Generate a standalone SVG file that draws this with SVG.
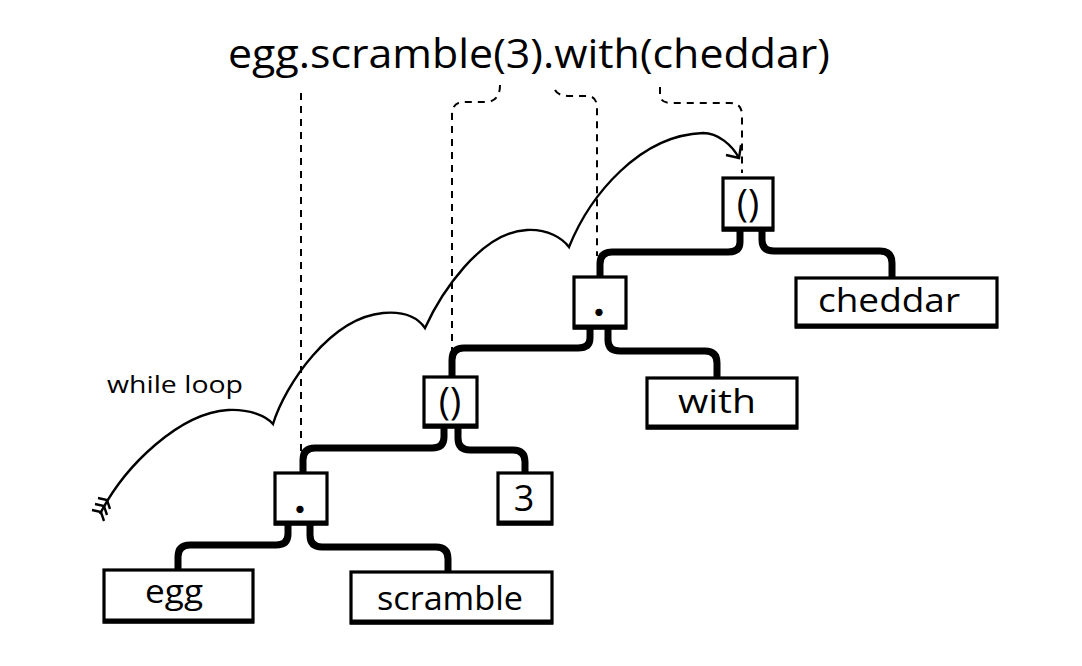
<svg xmlns="http://www.w3.org/2000/svg" width="1082" height="666" viewBox="0 0 1082 666">
<style>
.bx{fill:#fff;stroke:#000;stroke-width:3.2}
.bb{stroke:#000;stroke-width:5;fill:none}
.t{font-family:"Open Sans","Liberation Sans",sans-serif;fill:#000}
.lbl{font-size:33px;text-anchor:middle}
.par{font-size:38px;text-anchor:middle}
.dot{font-family:Lato,"Noto Sans",sans-serif;font-weight:bold;font-size:48px;text-anchor:middle}
.edge{stroke:#000;stroke-width:7;fill:none}
.dash{stroke:#000;stroke-width:2;fill:none;stroke-dasharray:7 6}
.loop{stroke:#000;stroke-width:2.4;fill:none;stroke-linejoin:miter}
</style>
<rect width="1082" height="666" fill="#fff"/>
<text class="t" x="228" y="68" font-size="41" textLength="602" lengthAdjust="spacingAndGlyphs">egg.scramble(3).with(cheddar)</text>
<text class="t" x="107" y="393" font-size="24" textLength="136" lengthAdjust="spacingAndGlyphs">while loop</text>

<g id="annotations">
<path class="dash" d="M301,93 V452"/>
<path class="dash" d="M500,85 Q500,102 485,102 H464 Q452,102 452,115 V352"/>
<path class="dash" d="M555,90 Q558,96 570,96 H587 Q597,96 597,108 V256"/>
<path class="dash" d="M660,87 V95 Q660,103 672,103 H730 Q742,103 742,115 V173"/>
<path class="loop" d="M100,514 C125,465 180,413 228,410 C250,409 266,416 273,424 C285,385 330,318 383,313 C405,311 418,318 425,328 C440,295 480,232 527,230 C548,229 562,238 569,247 C590,195 640,135 703,133 C718,133 732,145 739,158"/>
<path class="loop" d="M726,155 L739,158 L741,145"/>
<path class="loop" stroke-width="2.2" d="M92,510 L101,512 L104,521 M95,504 L104,506 L107,515 M98,498 L107,500 L110,509"/>
</g>

<g id="connectors">
<path class="edge" d="M740,230 V242 Q740,252 728,252 H612 Q600,252 600,264 V278"/>
<path class="edge" d="M762,230 V240 Q762,251 774,251 H880 Q892,251 892,263 V278"/>
<path class="edge" d="M590,328 V338 Q590,348 578,348 H464 Q452,348 452,360 V377"/>
<path class="edge" d="M608,328 V340 Q608,351 620,351 H705 Q717,351 717,363 V378"/>
<path class="edge" d="M444,427 V437 Q444,448 432,448 H315 Q303,448 303,460 V473"/>
<path class="edge" d="M458,427 V438 Q458,450 470,450 H513 Q525,450 525,462 V473"/>
<path class="edge" d="M288,524 V534 Q288,545 276,545 H190 Q178,545 178,557 V570"/>
<path class="edge" d="M310,524 V535 Q310,547 322,547 H436 Q448,547 448,559 V572"/>
</g>

<g id="call-top">
<rect class="bx" x="723" y="178" width="50" height="52"/>
<path class="bb" d="M722,229 H774"/>
<text class="t par" x="748" y="217">()</text>
</g>
<g id="dot-mid">
<rect class="bx" x="574" y="277" width="52" height="51"/>
<path class="bb" d="M573,327 H627"/>
<text class="t dot" x="599" y="316">.</text>
</g>
<g id="cheddar">
<rect class="bx" x="796" y="278" width="201" height="49"/>
<path class="bb" d="M795,326 H998"/>
<text class="t lbl" x="889" y="312" textLength="142" lengthAdjust="spacingAndGlyphs">cheddar</text>
</g>
<g id="with">
<rect class="bx" x="647" y="378" width="150" height="50"/>
<path class="bb" d="M646,427 H798"/>
<text class="t lbl" x="717" y="413" textLength="78" lengthAdjust="spacingAndGlyphs">with</text>
</g>
<g id="call-mid">
<rect class="bx" x="424" y="377" width="53" height="50"/>
<path class="bb" d="M423,426 H478"/>
<text class="t par" x="450" y="415">()</text>
</g>
<g id="dot-bottom">
<rect class="bx" x="275" y="473" width="52" height="51"/>
<path class="bb" d="M274,523 H328"/>
<text class="t dot" x="300" y="513">.</text>
</g>
<g id="three">
<rect class="bx" x="498" y="473" width="54" height="51"/>
<path class="bb" d="M497,523 H553"/>
<text class="t lbl" x="524" y="511" style="font-size:36px">3</text>
</g>
<g id="egg">
<rect class="bx" x="104" y="570" width="149" height="52"/>
<path class="bb" d="M103,621 H254"/>
<text class="t lbl" x="174" y="603" textLength="58" lengthAdjust="spacingAndGlyphs">egg</text>
</g>
<g id="scramble">
<rect class="bx" x="351" y="572" width="201" height="51"/>
<path class="bb" d="M350,622 H553"/>
<text class="t lbl" x="450" y="610" textLength="146" lengthAdjust="spacingAndGlyphs">scramble</text>
</g>
</svg>
